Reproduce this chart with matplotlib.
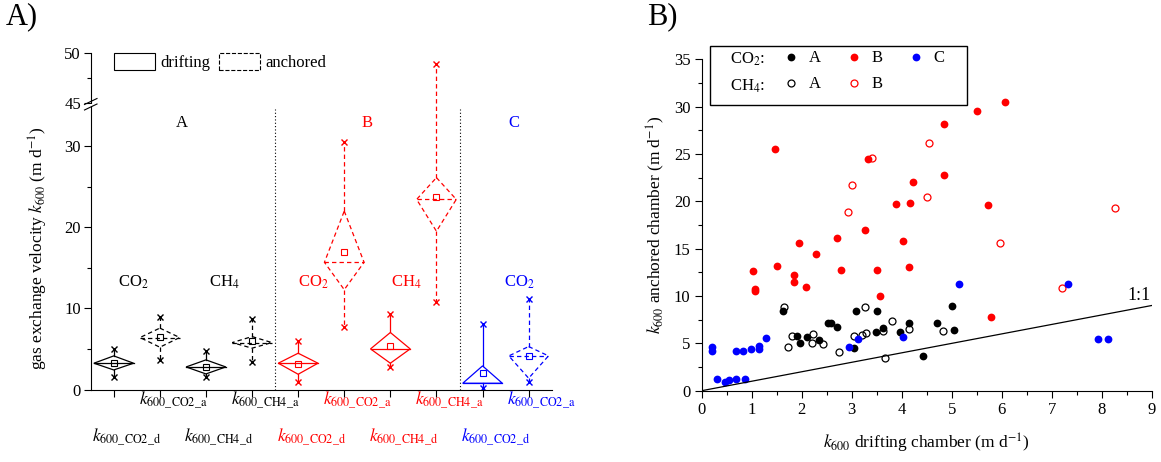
import numpy as np
import matplotlib
matplotlib.use("Agg")
import matplotlib.pyplot as plt
from matplotlib.patches import Patch, Rectangle, Polygon
from matplotlib.lines import Line2D

plt.rcParams['font.family'] = ['Liberation Serif', 'DejaVu Serif']
plt.rcParams['mathtext.fontset'] = 'stix'
plt.rcParams['font.size'] = 12

# ---------------- Panel A data ----------------
box_labels = ['600\\_CO2\\_d', '600\\_CO2\\_a', '600\\_CH4\\_d', '600\\_CH4\\_a',
              '600\\_CO2\\_d', '600\\_CO2\\_a', '600\\_CH4\\_d', '600\\_CH4\\_a',
              '600\\_CO2\\_d', '600\\_CO2\\_a']
box_colors = ['black'] * 4 + ['#ff0000'] * 4 + ['#0000ff'] * 2
box_anchored = [False, True] * 5
box_min = [1.60, 3.67, 1.53, 3.46, 0.99, 7.70, 2.84, 10.79, 0.17, 0.99]
box_q1 = [2.43, 5.23, 1.94, 5.11, 1.90, 12.31, 3.26, 19.50, 0.79, 1.41]
box_med = [3.26, 6.42, 2.80, 5.80, 3.26, 15.68, 5.02, 23.42, 0.79, 4.16]
box_q3 = [4.16, 7.58, 3.67, 6.54, 4.49, 21.98, 7.04, 26.10, 2.93, 5.31]
box_max = [4.99, 8.94, 4.78, 8.73, 6.01, 30.50, 9.30, 48.90, 8.07, 11.16]
box_mean = [3.30, 6.45, 2.85, 6.00, 3.20, 16.96, 5.43, 23.70, 2.02, 4.10]

site_names = ['A', 'B', 'C']
site_colors = ['black', '#ff0000', '#0000ff']

# ---------------- Panel B data ----------------
co2_A_x = [1.62, 1.91, 1.97, 2.11, 2.35, 2.52, 2.58, 2.70, 3.05, 3.08, 3.48, 3.50, 3.62, 3.97, 4.15, 4.42, 4.71, 5.00, 5.05]
co2_A_y = [8.42, 5.77, 5.00, 5.63, 5.35, 7.20, 7.15, 6.76, 4.54, 8.45, 6.16, 8.42, 6.62, 6.16, 7.11, 3.70, 7.18, 8.98, 6.41]
ch4_A_x = [1.65, 1.73, 1.80, 2.21, 2.23, 2.43, 2.75, 3.05, 3.21, 3.27, 3.28, 3.63, 3.67, 3.81, 4.15, 4.82]
ch4_A_y = [8.80, 4.60, 5.77, 5.00, 5.99, 4.90, 4.05, 5.77, 5.88, 8.80, 6.13, 6.34, 3.42, 7.39, 6.48, 6.34]
co2_B_x = [1.02, 1.07, 1.07, 1.47, 1.50, 1.85, 1.85, 1.94, 2.08, 2.28, 2.70, 2.79, 3.27, 3.33, 3.50, 3.57,
           3.88, 4.03, 4.15, 4.17, 4.23, 4.85, 4.85, 5.51, 5.72, 5.79, 6.07]
co2_B_y = [12.64, 10.70, 10.50, 25.50, 13.17, 12.20, 11.50, 15.60, 10.99, 14.40, 16.10, 12.75, 16.97, 24.47, 12.75, 10.04,
           19.68, 15.80, 13.03, 19.80, 22.00, 28.13, 22.78, 29.60, 19.60, 7.75, 30.50]
ch4_B_x = [2.93, 3.01, 3.40, 4.51, 4.55, 5.96, 7.20, 8.26]
ch4_B_y = [18.90, 21.73, 24.60, 20.50, 26.20, 15.63, 10.88, 19.30]
co2_C_x = [0.21, 0.21, 0.30, 0.47, 0.55, 0.68, 0.87, 0.69, 0.82, 0.99, 1.15, 1.15, 1.29, 2.95, 3.13, 4.03, 5.15, 7.33, 7.93, 8.13]
co2_C_y = [4.65, 4.20, 1.20, 0.88, 1.13, 1.20, 1.20, 4.20, 4.20, 4.37, 4.37, 4.70, 5.60, 4.65, 5.46, 5.63, 11.23, 11.23, 5.42, 5.42]

one_to_one = [0, 9]

W, H = 1161, 462
fig = plt.figure(figsize=(W / 100, H / 100), dpi=100)


def fx(px):
    return px / W


def fy(py):
    return 1 - py / H


# ================= Panel A =================
axA = fig.add_axes([fx(90.7), fy(389.7), fx(551.7 - 90.7), (389.7 - 52.7) / H])


def fwd(y):
    y = np.asarray(y, float)
    return np.where(y <= 35, y, np.where(y < 45, 35 + (y - 35) * 0.03, 35.3 + (y - 45) * 1.235))


def inv(u):
    u = np.asarray(u, float)
    return np.where(u <= 35, u, np.where(u < 35.3, 35 + (u - 35) / 0.03, 45 + (u - 35.3) / 1.235))


axA.set_yscale('function', functions=(fwd, inv))
axA.set_ylim(0, 50)
axA.set_xlim(0.5, 10.5)

hw = 0.43
positions = np.arange(1, len(box_min) + 1)
for i, p in enumerate(positions):
    c = box_colors[i]
    ls = (0, (3.5, 2.5)) if box_anchored[i] else '-'
    lw = 0.9
    poly = Polygon([(p, box_q3[i]), (p + hw, box_med[i]), (p, box_q1[i]), (p - hw, box_med[i])],
                   closed=True, fill=False, edgecolor=c, linestyle=ls, linewidth=lw)
    axA.add_patch(poly)
    axA.plot([p - hw, p + hw], [box_med[i], box_med[i]], color=c, ls=ls, lw=lw)
    axA.plot([p, p], [box_q3[i], box_max[i]], color=c, ls=ls, lw=lw)
    axA.plot([p, p], [box_q1[i], box_min[i]], color=c, ls=ls, lw=lw)
    axA.plot([p, p], [box_min[i], box_max[i]], ls='none', marker='x', ms=3.8, mew=1.0, color=c)
    axA.plot([p], [box_mean[i]], ls='none', marker='s', ms=3.8, mfc='none', mec=c, mew=0.8)

# separators
axA.vlines([4.5, 8.5], 0, 34.5, colors='black', linestyles=(0, (1, 2)), lw=0.8)

# group labels
for j, (nm, col) in enumerate(zip(site_names, site_colors)):
    xs = [2.47, 6.49, 9.67][j]
    axA.text(xs, 32.8, nm, color=col, ha='center', va='center', fontsize=12)
gas_text = [(1.43, 'CO$_2$', 'black'), (3.39, 'CH$_4$', 'black'), (5.34, 'CO$_2$', '#ff0000'),
            (7.34, 'CH$_4$', '#ff0000'), (9.8, 'CO$_2$', '#0000ff')]
for xg, t, col in gas_text:
    axA.text(xg, 13.2, t, color=col, ha='center', va='center', fontsize=12)

# axes styling
for s in ['top', 'right']:
    axA.spines[s].set_visible(False)
axA.spines['left'].set_bounds(0, 35)
axA.plot([0, 0], [45, 50], transform=axA.get_yaxis_transform(), color='black', lw=0.8, clip_on=False)
axA.set_yticks([0, 10, 20, 30, 45, 50])
axA.set_yticklabels(['0', '10', '20', '30', '45', '50'])
axA.set_yticks([5, 15, 25, 47.5], minor=True)
axA.tick_params(axis='y', which='major', direction='out', length=5, width=0.8, labelsize=12, pad=2)
axA.tick_params(axis='y', which='minor', direction='out', length=3, width=0.8)
axA.set_xticks(positions)
axA.set_xticklabels([''] * len(positions))
axA.tick_params(axis='x', which='major', direction='out', length=5, width=0.8)
axA.tick_params(axis='x', which='minor', bottom=False)
for i, p in enumerate(positions):
    yrow = 0.0 if box_anchored[i] else -0.108
    axA.text(p + 0.28, yrow, r'$k_{\mathrm{' + box_labels[i] + '}}$', color=box_colors[i],
             transform=axA.get_xaxis_transform(), ha='center', va='top', fontsize=12.5)

# break marks on left axis
fig.add_artist(Rectangle((fx(89.5), fy(106.0)), fx(2.5), 2.0 / H, facecolor='white', edgecolor='none'))
for yb in [101.5, 107.0]:
    fig.add_artist(Line2D([fx(84.5), fx(97)], [fy(yb + 3), fy(yb - 3)], color='black', lw=0.8))

axA.set_ylabel(r'gas exchange velocity $k_{600}$ (m d$^{-1}$)', fontsize=12.5)
axA.yaxis.set_label_coords(-0.088, 0.42)

legA = axA.legend(handles=[Patch(facecolor='none', edgecolor='black', lw=0.8),
                           Patch(facecolor='none', edgecolor='black', lw=0.8, linestyle='--')],
                  labels=['drifting', 'anchored'], ncol=2, frameon=False, loc='upper left',
                  bbox_to_anchor=(0.0505, 0.999), borderaxespad=0, borderpad=0,
                  handlelength=2.46, handleheight=1.2, handletextpad=0.3, columnspacing=0.55, fontsize=12)

fig.text(fx(22), fy(17), 'A)', fontsize=22, ha='center', va='center')
fig.text(fx(662), fy(17), 'B)', fontsize=22, ha='center', va='center')

# ================= Panel B =================
axB = fig.add_axes([fx(701.7), fy(390.7), fx(450), 331.3 / H])
ms_f, ms_o = 5.6, 5.0
axB.plot(co2_A_x, co2_A_y, 'o', color='black', ms=ms_f, mew=0)
axB.plot(ch4_A_x, ch4_A_y, 'o', mfc='none', mec='black', ms=ms_o, mew=0.9)
axB.plot(co2_B_x, co2_B_y, 'o', color='#ff0000', ms=ms_f, mew=0)
axB.plot(ch4_B_x, ch4_B_y, 'o', mfc='none', mec='#ff0000', ms=ms_o, mew=0.9)
axB.plot(co2_C_x, co2_C_y, 'o', color='#0000ff', ms=ms_f, mew=0)
axB.plot(one_to_one, one_to_one, color='black', lw=0.9)
axB.text(8.97, 9.15, '1:1', ha='right', va='bottom', fontsize=13)

axB.set_xlim(0, 9)
axB.set_ylim(0, 35)
for s in ['top', 'right']:
    axB.spines[s].set_visible(False)
axB.set_xticks(range(0, 10))
axB.set_xticks(np.arange(0.5, 9, 1.0), minor=True)
axB.set_yticks(range(0, 36, 5))
axB.set_yticks(np.arange(2.5, 35, 5), minor=True)
axB.tick_params(which='major', direction='out', length=5, width=0.8, labelsize=12, pad=3)
axB.tick_params(which='minor', direction='out', length=3, width=0.8)
axB.set_xlabel(r'$k_{600}$ drifting chamber (m d$^{-1}$)', fontsize=12.5)
axB.xaxis.set_label_coords(0.5, -0.125)
axB.set_ylabel(r'$k_{600}$ anchored chamber (m d$^{-1}$)', fontsize=12.5)
axB.yaxis.set_label_coords(-0.078, 0.5)

# legend for panel B
axB.add_patch(Rectangle((0.018, 0.862), 0.571, 0.179, transform=axB.transAxes, fill=False,
                        edgecolor='black', lw=1.0, clip_on=False))
axB.text(0.063, 1.001, 'CO$_2$:', transform=axB.transAxes, ha='left', va='center', fontsize=12)
axB.text(0.063, 0.920, 'CH$_4$:', transform=axB.transAxes, ha='left', va='center', fontsize=12)
hB = [Line2D([], [], ls='none', marker='o', color='black', ms=ms_f, mew=0),
      Line2D([], [], ls='none', marker='o', mfc='none', mec='black', ms=ms_o, mew=0.9),
      Line2D([], [], ls='none', marker='o', color='#ff0000', ms=ms_f, mew=0),
      Line2D([], [], ls='none', marker='o', mfc='none', mec='#ff0000', ms=ms_o, mew=0.9),
      Line2D([], [], ls='none', marker='o', color='#0000ff', ms=ms_f, mew=0),
      Line2D([], [], ls='none')]
lB = ['A', 'A', 'B', 'B', 'C', '']
axB.legend(hB, lB, ncol=3, frameon=False, loc='upper left', bbox_to_anchor=(0.189, 1.027),
           borderaxespad=0, borderpad=0, handlelength=0.5, handletextpad=0.8, columnspacing=1.75,
           labelspacing=0.6, fontsize=12)

fig.savefig('out.png', dpi=100)
